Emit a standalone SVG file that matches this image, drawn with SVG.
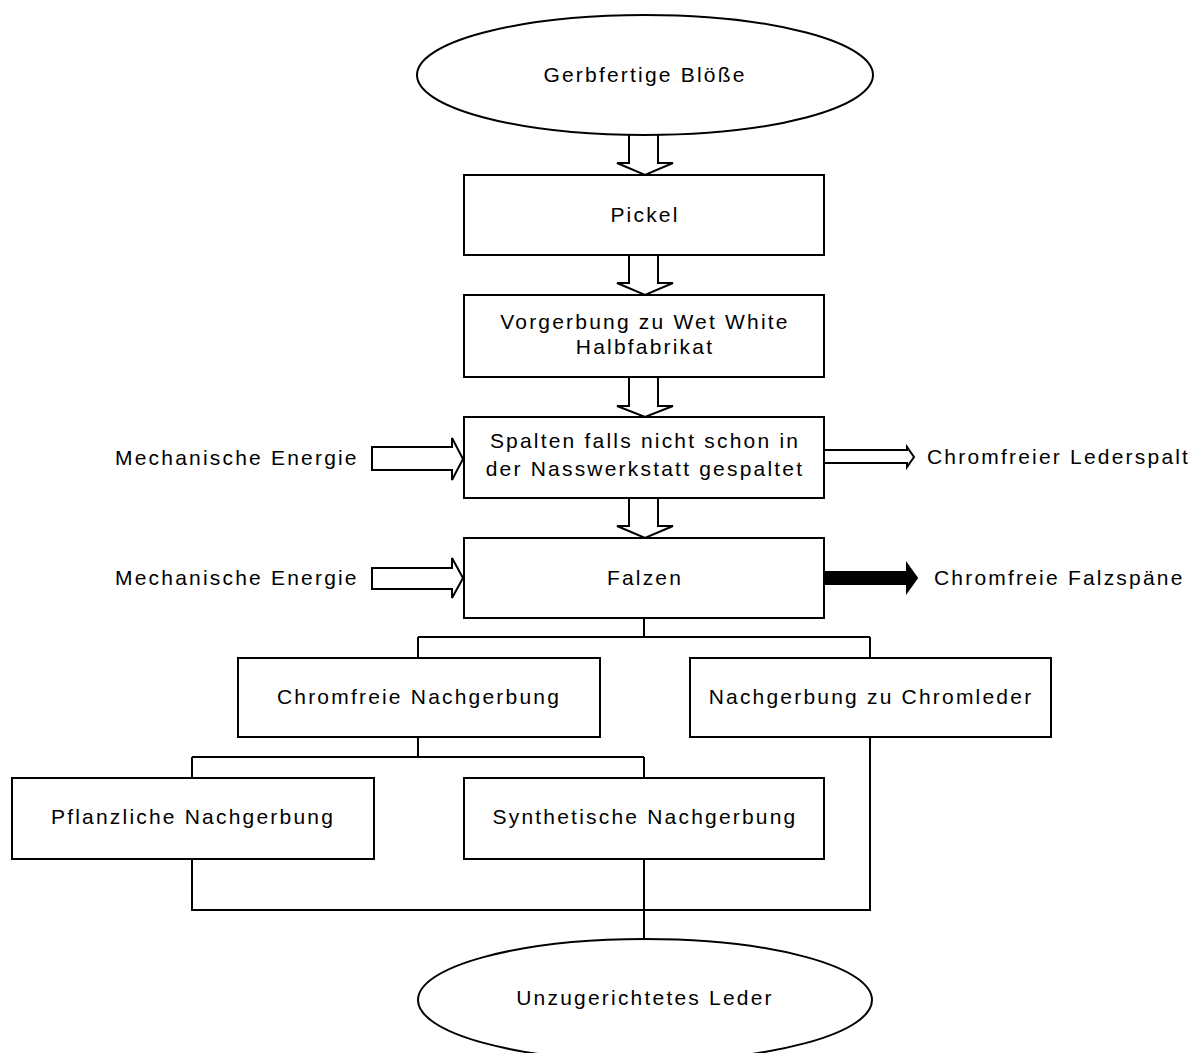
<svg xmlns="http://www.w3.org/2000/svg" width="1189" height="1053" viewBox="0 0 1189 1053">
  <style>
    .box { fill: #ffffff; stroke: #000000; stroke-width: 2; }
    .term { fill: #ffffff; stroke: #000000; stroke-width: 2; }
    .label { font-family: "Liberation Sans", Arial, sans-serif; font-size: 21px; letter-spacing: 2.2px; fill: #000000; }
    .mid { text-anchor: middle; }
    .conn { fill: none; stroke: #000000; stroke-width: 2; }
    .blk { fill: #ffffff; stroke: #000000; stroke-width: 2; stroke-linejoin: miter; }
    .blk-solid { fill: #000000; stroke: #000000; stroke-width: 2; }
  </style>
  <rect width="1189" height="1053" fill="#ffffff"/>

  <!-- connectors: block arrows and tree lines -->
  <g id="connectors">
    <!-- downward block arrows along the main column -->
    <path class="blk" d="M629,133 L629,163 L617,163 L645,175 L673,163 L658,163 L658,133"/>
    <path class="blk" d="M629,255 L629,283 L617,283 L645,295 L673,283 L658,283 L658,255"/>
    <path class="blk" d="M629,377 L629,406 L617,406 L645,417 L673,406 L658,406 L658,377"/>
    <path class="blk" d="M629,498 L629,526 L617,526 L645,538 L673,526 L658,526 L658,498"/>
    <!-- energy inputs -->
    <path class="blk" d="M372,447 L452,447 L452,438 L463,459 L452,480 L452,470 L372,470 Z"/>
    <path class="blk" d="M372,568 L452,568 L452,558 L463,578 L452,598 L452,589 L372,589 Z"/>
    <!-- outputs -->
    <path class="blk" d="M824,450 L907,450 L907,447 L914,457 L907,467 L907,463 L824,463"/>
    <path class="blk-solid" d="M819,572 L907,572 L907,564 L917,578 L907,592 L907,584 L819,584 Z"/>
    <!-- branching after Falzen -->
    <path class="conn" d="M644,618 L644,637 M418,637 L870,637 M418,637 L418,658 M870,637 L870,658"/>
    <!-- branching after chromfreie Nachgerbung -->
    <path class="conn" d="M418,737 L418,757 M192,757 L644,757 M192,757 L192,778 M644,757 L644,778"/>
    <!-- merge into final product -->
    <path class="conn" d="M192,859 L192,910 L870,910 L870,737 M644,859 L644,939"/>
  </g>

  <g id="start">
    <ellipse class="term" cx="645" cy="75" rx="228" ry="60"/>
    <text class="label mid" x="645" y="82">Gerbfertige Blöße</text>
  </g>

  <g id="pickel">
    <rect class="box" x="464" y="175" width="360" height="80"/>
    <text class="label mid" x="645" y="222">Pickel</text>
  </g>

  <g id="vorgerbung">
    <rect class="box" x="464" y="295" width="360" height="82"/>
    <text class="label mid" x="645" y="329">Vorgerbung zu Wet White</text>
    <text class="label mid" x="645" y="354">Halbfabrikat</text>
  </g>

  <g id="spalten">
    <rect class="box" x="464" y="417" width="360" height="81"/>
    <text class="label mid" x="645" y="448">Spalten falls nicht schon in</text>
    <text class="label mid" x="645" y="476">der Nasswerkstatt gespaltet</text>
  </g>

  <g id="falzen">
    <rect class="box" x="464" y="538" width="360" height="80"/>
    <text class="label mid" x="645" y="585">Falzen</text>
  </g>

  <g id="energie-1">
    <text class="label" x="115" y="465">Mechanische Energie</text>
  </g>
  <g id="energie-2">
    <text class="label" x="115" y="585">Mechanische Energie</text>
  </g>
  <g id="lederspalt">
    <text class="label" x="927" y="464">Chromfreier Lederspalt</text>
  </g>
  <g id="falzspaene">
    <text class="label" x="934" y="585">Chromfreie Falzspäne</text>
  </g>

  <g id="chromfrei-nachgerbung">
    <rect class="box" x="238" y="658" width="362" height="79"/>
    <text class="label mid" x="419" y="704">Chromfreie Nachgerbung</text>
  </g>

  <g id="chromleder">
    <rect class="box" x="690" y="658" width="361" height="79"/>
    <text class="label mid" x="871" y="704">Nachgerbung zu Chromleder</text>
  </g>

  <g id="pflanzlich">
    <rect class="box" x="12" y="778" width="362" height="81"/>
    <text class="label mid" x="193" y="824">Pflanzliche Nachgerbung</text>
  </g>

  <g id="synthetisch">
    <rect class="box" x="464" y="778" width="360" height="81"/>
    <text class="label mid" x="645" y="824">Synthetische Nachgerbung</text>
  </g>

  <g id="end">
    <ellipse class="term" cx="645" cy="1000" rx="227" ry="61"/>
    <text class="label mid" x="645" y="1005">Unzugerichtetes Leder</text>
  </g>
</svg>
